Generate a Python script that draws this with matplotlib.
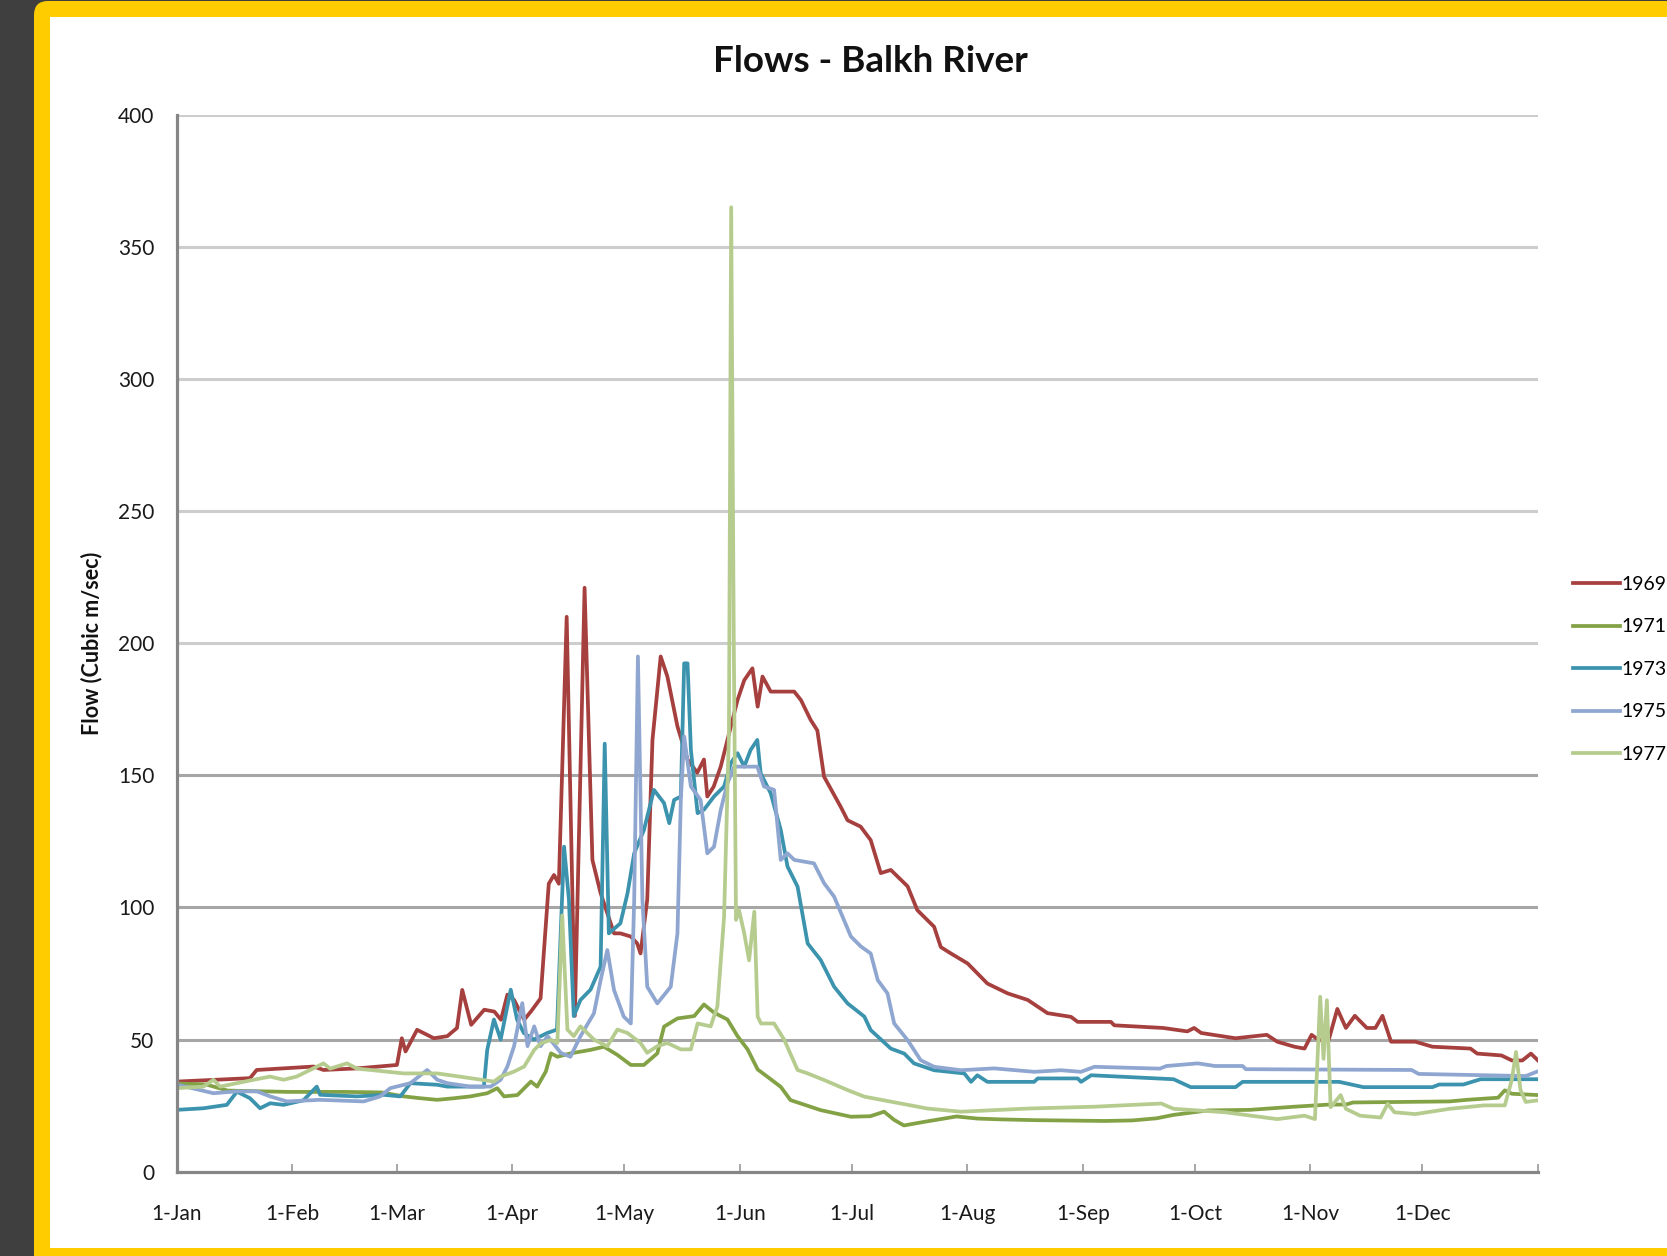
import matplotlib
matplotlib.use("Agg")
import matplotlib.pyplot as plt
from matplotlib.patches import FancyBboxPatch, Rectangle
from matplotlib.transforms import IdentityTransform

plt.rcParams['font.family'] = ['Lato', 'DejaVu Sans']

days_1969 = [0, 19.7, 21.5, 36.8, 39.4, 48.4, 59.1, 60.4, 61.4, 64.5, 69, 72.6, 75.2, 76.6, 79, 82.5, 85.2, 87,
             88.7, 90.5, 93.2, 95, 97.6, 99.8, 101.2, 102.5, 104.6, 106.8, 109.4, 111.5, 113.7, 117.3, 119,
             121.8, 123.5, 124.4, 126.2, 127.6, 129.8, 131.6, 134.3, 137, 139.6, 141.4, 142.3, 144, 145.9,
             147.7, 150.4, 152.2, 154.4, 155.8, 157.1, 159.3, 165.6, 167.4, 170, 171.8, 173.6, 178.1, 179.9,
             183.4, 186.1, 188.8, 191.5, 196, 198.6, 203.1, 204.9, 207.6, 212.1, 217.4, 222.8, 228.2, 233.5,
             239.8, 241.6, 250.5, 251.4, 264.5, 271, 272.8, 274.7, 283.9, 292.3, 295.1, 299.7, 302.4, 304.3,
             306.1, 308.9, 311.2, 313.5, 315.9, 319.1, 321.4, 323.3, 325.6, 332.1, 336.7, 346.9, 348.7, 355.2,
             358, 360.8, 363.1, 365]
flow_1969 = [34.1, 35.4, 38.5, 39.8, 38.5, 39.1, 40.4, 50.5, 45.5, 53.7, 50.5, 51.3, 54.4, 68.8, 55.6, 61.3, 60.6,
             57.5, 67, 65, 57.5, 60.6, 65.6, 109, 112.3, 109, 210, 59, 221, 118, 105.4, 90.2, 90.2, 89, 86.4,
             82.6, 103, 163.4, 195, 187.4, 168.5, 156, 151, 156, 142, 145.7, 153.3, 163.4, 178.5, 186, 190.5,
             176, 187.4, 181.7, 181.7, 178.5, 171, 167, 149.5, 138, 133, 130.6, 125.5, 113, 114.2, 108, 99,
             92.7, 85, 82.6, 78.8, 71.2, 67.5, 65, 60, 58.6, 56.7, 56.7, 55.4, 54.4, 53.1, 54.4, 52.5, 50.5,
             51.8, 49.2, 47.3, 46.6, 51.8, 49.9, 49.9, 61.6, 54.4, 59, 54.4, 54.4, 59, 49.2, 49.2, 47.3, 46.6,
             44.7, 44, 42.1, 42.1, 44.7, 42.1]

days_1971 = [0, 8, 13.7, 30, 45, 55, 60.9, 65.4, 69.9, 74.4, 78.8, 83.3, 86, 87.8, 91.4, 95, 96.7, 99, 100.4,
             102.1, 105.7, 111, 114.6, 118.2, 121.8, 125.3, 128.9, 130.7, 134.3, 138.8, 141.4, 144.1, 147.7,
             150.4, 153.1, 155.8, 159.3, 162, 164.6, 172.7, 180.8, 186, 189.7, 192.4, 195, 200.6, 209.1, 214.8,
             221, 230.3, 248.8, 256.2, 262.7, 267.3, 276.6, 287.7, 299.7, 308.9, 313.5, 315.4, 341.3, 345.9,
             354.3, 356.1, 358, 365]
flow_1971 = [33.4, 33, 30.7, 30.2, 30.2, 30, 28.5, 27.8, 27.2, 27.8, 28.5, 29.7, 31.6, 28.5, 29, 34.1, 32.2, 37.9,
             44.8, 43.5, 44.8, 46.1, 47.3, 44.2, 40.4, 40.4, 44.8, 54.9, 58, 58.9, 63.3, 60.2, 57.6, 51.3, 46.3,
             38.7, 35, 32.1, 27.1, 23.3, 20.8, 21, 22.7, 19.6, 17.5, 18.9, 20.9, 20.1, 19.8, 19.5, 19.2, 19.4,
             20.2, 21.5, 23.2, 23.4, 24.6, 25.4, 25.4, 26.2, 26.6, 27.2, 28, 30.8, 29.5, 29]

days_1973 = [0, 7.2, 13.5, 16.2, 19.7, 22.4, 25.1, 28.7, 34, 37.6, 38.5, 48.4, 55.5, 60, 62.7, 69.9, 72.6, 82.4,
             83.3, 85.1, 86.9, 89.6, 91.3, 93.1, 95.8, 99.4, 102, 103.9, 105.2, 106.5, 108.3, 111, 113.7, 114.8,
             115.9, 119, 120.9, 122.7, 125.3, 128, 130.7, 132.1, 133.4, 135.2, 136.1, 137, 137.9, 139.7, 141.4,
             144.1, 146.8, 148.6, 150.4, 152.2, 153.9, 155.7, 156.6, 159.3, 162, 163.8, 166.5, 169.2, 172.7,
             176.3, 179.9, 184.4, 186.1, 191.5, 195.1, 197.7, 203.1, 211.2, 213, 214.7, 217.4, 229.9, 230.9,
             241.6, 242.5, 245.2, 267.3, 271.9, 283.9, 285.8, 311.7, 318.2, 336.7, 338.5, 345, 349.6, 365]
flow_1973 = [23.4, 24, 25.3, 30.3, 27.8, 24, 25.9, 25.3, 27, 32.2, 29.1, 28.5, 29.1, 28.5, 33.5, 32.9, 32.2, 32.2,
             46.1, 57.6, 50, 68.9, 57.6, 52.5, 50, 52.5, 53.8, 123, 103, 58.9, 65, 68.9, 77.6, 162, 90.2, 94,
             105.3, 120.5, 129.3, 144.5, 139.5, 131.9, 140.7, 142, 192.4, 192.4, 159.6, 135.7, 137, 142, 145.8,
             154.6, 158.4, 153.3, 159.6, 163.4, 150.8, 143.2, 129.3, 115.5, 107.9, 86.4, 80.1, 70, 63.7, 58.7,
             53.6, 46.6, 44.7, 41, 38.4, 37.2, 34, 36.5, 34, 34, 35.3, 35.3, 34, 36.5, 35, 32, 32, 34, 34, 32,
             32, 33, 33, 35, 35]

days_1975 = [0, 9.9, 16.2, 21.6, 25.1, 29.6, 38.5, 50.2, 54.6, 57.3, 62.7, 67.2, 69.9, 72.6, 78.8, 84.2, 86.9,
             88.7, 90.5, 92.7, 94.1, 95.9, 97.6, 99.5, 103, 105.6, 108.3, 111.9, 113.7, 115.5, 117.3, 119.9,
             121.8, 122.7, 123.7, 124.9, 126.2, 128.9, 132.5, 134.3, 135.2, 136.1, 137.9, 140.5, 142.3, 144.1,
             145.9, 147.7, 149.5, 155.7, 157.5, 160.2, 162, 163.8, 165.6, 170.9, 173.6, 176.3, 180.8, 183.5,
             186.1, 188, 190.6, 192.4, 196, 199.5, 203.1, 210.3, 219.2, 230, 237.1, 242.5, 246.1, 263.6, 265.4,
             273.8, 278.4, 285.8, 286.7, 331.1, 333, 361.7, 365]
flow_1975 = [33, 29.7, 30.4, 30.4, 28.5, 26.6, 27.2, 26.6, 28.5, 31.6, 33.5, 38.5, 34.8, 33.5, 32.2, 32.2, 34.8,
             39.8, 47.5, 63.8, 47.5, 55, 47.5, 51.3, 45, 43.5, 51.3, 59.9, 72.5, 83.9, 68.7, 58.7, 56.1, 103, 195,
             103, 70, 63.7, 70, 90.2, 140.7, 164.7, 145.8, 140.7, 120.5, 123, 136.9, 147, 153.3, 153.3, 145.8,
             144.5, 118, 120.5, 118, 116.7, 109.2, 104.1, 89, 85.2, 82.6, 72.5, 67.5, 56.1, 49.8, 42.2, 39.7,
             38.4, 39.1, 37.8, 38.4, 37.8, 39.7, 39, 40, 41, 40, 40, 38.8, 38.5, 37, 36.2, 38]

days_1977 = [0, 7.2, 9.9, 11.7, 20.7, 25.1, 28.7, 32.2, 39.4, 41.2, 45.7, 48.4, 52, 60.9, 69.9, 78.8, 85.1, 86.9,
             90.5, 93.2, 95.9, 97.7, 100.4, 102.1, 103.4, 104.8, 106.5, 108.3, 111.9, 115.5, 118.2, 120.9, 124.4,
             126.2, 128.9, 131.6, 135.2, 137.9, 139.7, 143.2, 145, 146.8, 148.1, 148.7, 149.4, 150, 150.8, 152.2,
             153.5, 154.9, 155.8, 156.7, 160.2, 162.9, 166.5, 169.2, 173.6, 179.9, 184.4, 194.2, 201.3, 210.3,
             228.2, 246.1, 264, 267.3, 281.1, 295.1, 302.4, 305.2, 306.6, 307.5, 308.4, 309.4, 312.1, 313.5,
             317.3, 322.8, 324.7, 326.5, 332.1, 341.3, 350.6, 356.1, 358, 359.1, 360.3, 361.7, 365]
flow_1977 = [31.6, 32.2, 34.8, 32.2, 34.8, 36, 34.8, 36, 41, 39, 41, 39, 38.5, 37.2, 37.2, 35.4, 34.1, 36, 37.9,
             39.8, 46.1, 48.6, 49.9, 48.7, 97, 53.8, 51.3, 55, 50, 47.5, 53.8, 52.5, 48.7, 45, 47.5, 48.7, 46.3,
             46.3, 56.1, 55, 62.5, 96.5, 166, 365, 200, 95.3, 99, 90.2, 80, 98.4, 58.7, 56.1, 56.1, 50, 38.5,
             37.2, 34.7, 30.9, 28.4, 25.8, 23.9, 22.7, 23.9, 24.6, 25.8, 23.8, 22.5, 19.9, 21.2, 19.9, 66.2, 42.7,
             64.9, 24.4, 29, 23.8, 21.2, 20.5, 25.7, 22.5, 21.8, 23.8, 25.1, 25.1, 34.9, 45.3, 31, 26.4, 27]

years = ['1969', '1971', '1973', '1975', '1977']
colors = ['#A6403E', '#83A245', '#3C93AE', '#8EA6D0', '#B6CC8F']

month_starts = [0, 31, 59, 90, 120, 151, 181, 212, 243, 273, 304, 334, 365]
month_labels = ['1-Jan', '1-Feb', '1-Mar', '1-Apr', '1-May', '1-Jun', '1-Jul', '1-Aug', '1-Sep',
                '1-Oct', '1-Nov', '1-Dec', '']
y_ticks = [0, 50, 100, 150, 200, 250, 300, 350, 400]

fig = plt.figure(figsize=(16.67, 12.56), dpi=100)
fig.patch.set_facecolor('#3F3F3F')

# gelber Rahmen + weisse Flaeche
gelb = FancyBboxPatch((34, -60), 1700, 1315, boxstyle="round,pad=0,rounding_size=14",
                      transform=IdentityTransform(), facecolor='#FFCC00', edgecolor='none', zorder=-10)
weiss = Rectangle((50, 8), 1700, 1231, transform=IdentityTransform(),
                  facecolor='white', edgecolor='none', zorder=-9)
fig.add_artist(gelb)
fig.add_artist(weiss)

ax = fig.add_axes([0.10588, 0.06712, 0.81674, 0.84148])
ax.set_facecolor('none')

for yv in y_ticks[1:]:
    c = '#CDCDCD' if yv >= 200 else '#A6A6A6'
    ax.axhline(yv, color=c, lw=2.2, zorder=1)

series = [(days_1969, flow_1969), (days_1971, flow_1971), (days_1973, flow_1973),
          (days_1975, flow_1975), (days_1977, flow_1977)]
for (d, f), yr, col in zip(series, years, colors):
    ax.plot(d, f, color=col, lw=2.7, label=yr, zorder=3, solid_joinstyle='round')

ax.set_xlim(0, 365)
ax.set_ylim(0, 400)
ax.set_xticks(month_starts)
ax.set_xticklabels(month_labels, fontsize=15, color='#1a1a1a')
ax.set_yticks(y_ticks)
ax.set_yticklabels([str(v) for v in y_ticks], fontsize=15, color='#1a1a1a')
ax.tick_params(axis='x', direction='in', length=6, width=1.3, color='#A0A0A0', pad=23)
ax.tick_params(axis='y', length=0, pad=16)

for s in ['top', 'right']:
    ax.spines[s].set_visible(False)
for s in ['left', 'bottom']:
    ax.spines[s].set_color('#868686')
    ax.spines[s].set_linewidth(2.3)
    ax.spines[s].set_zorder(4)

fig.text(870 / 1667, 1 - 62 / 1256, 'Flows - Balkh River', ha='center', va='center',
         fontsize=26.5, fontweight='bold', color='#111111')
fig.text(92 / 1667, 0.4879, 'Flow (Cubic m/sec)', rotation=90, ha='center', va='center',
         fontsize=15.5, fontweight='bold', color='#111111')

fig.legend(loc='upper left', bbox_to_anchor=(1573 / 1667, 1 - 576 / 1256), frameon=False,
           fontsize=14, handlelength=2.4, handletextpad=0.1, labelspacing=1.31,
           borderpad=0, borderaxespad=0)

fig.savefig('out.png', dpi=100, facecolor=fig.get_facecolor())
